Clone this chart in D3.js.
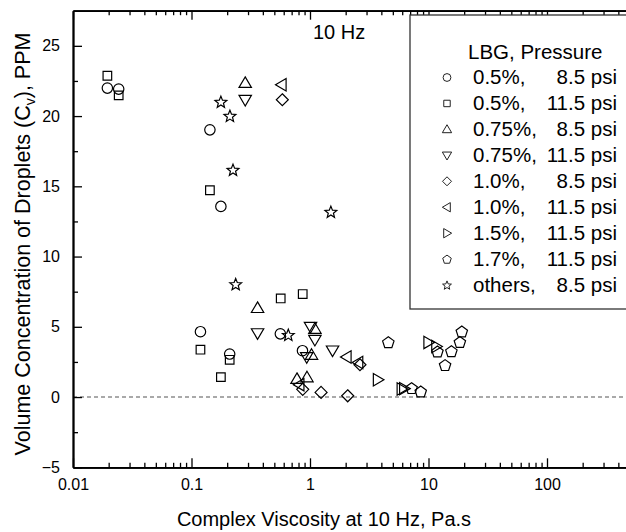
<!DOCTYPE html>
<html><head><meta charset="utf-8">
<script src="https://cdn.jsdelivr.net/npm/d3@7"></script>
<style>body{margin:0;background:#fff}svg{display:block;font-family:"Liberation Sans",Arial,sans-serif}</style>
</head><body><svg id="c" width="626" height="532"></svg>
<script>
// ---- data (viscosity Pa.s, concentration PPM) ----
const circX = [0.0195, 0.0243, 0.143, 0.177, 0.119, 0.210, 0.562, 0.864];
const circY = [21.99, 21.92, 19.02, 13.57, 4.65, 3.06, 4.5, 3.3];
const sqX = [0.0195, 0.0243, 0.143, 0.119, 0.210, 0.177, 0.566, 0.868];
const sqY = [22.87, 21.47, 14.72, 3.37, 2.65, 1.42, 7.02, 7.33];
const triUpX = [0.284, 0.361, 1.10, 1.03, 0.777, 0.943];
const triUpY = [22.35, 6.33, 4.85, 3.0, 1.28, 1.4];
const triDnX = [0.284, 0.361, 1.01, 1.10, 0.938, 1.55];
const triDnY = [21.16, 4.55, 5.0, 4.08, 2.85, 3.32];
const diaX = [0.584, 2.64, 0.868, 1.24, 2.08];
const diaY = [21.16, 2.3, 0.55, 0.33, 0.09];
const triLX = [0.577, 2.04, 2.56, 0.816];
const triLY = [22.23, 2.85, 2.46, 0.88];
const triRX = [3.73, 9.96, 11.6, 5.92, 6.21];
const triRY = [1.23, 3.89, 3.6, 0.57, 0.6];
const pentX = [4.58, 11.9, 15.6, 19.1, 18.4, 13.8, 7.2, 8.6];
const pentY = [3.91, 3.25, 3.27, 4.67, 3.92, 2.28, 0.64, 0.4];
const starX = [0.177, 0.211, 0.224, 1.50, 0.236, 0.656];
const starY = [21.02, 20.02, 16.18, 13.19, 8.04, 4.43];

const seriesShapes = ["circle","square","triUp","triDown","diamond","triLeft","triRight","pentagon","star"];
const legendPct = ["0.5%,","0.5%,","0.75%,","0.75%,","1.0%,","1.0%,","1.5%,","1.7%,","others,"];
const legendPsi = ["8.5 psi","11.5 psi","8.5 psi","11.5 psi","8.5 psi","11.5 psi","11.5 psi","11.5 psi","8.5 psi"];
const xTickVals = [0.01, 0.1, 1, 10, 100];
const xTickLabels = ["0.01","0.1","1","10","100"];
const yTickVals = [-5, 0, 5, 10, 15, 20, 25];

const seriesX = [circX, sqX, triUpX, triDnX, diaX, triLX, triRX, pentX, starX];
const seriesY = [circY, sqY, triUpY, triDnY, diaY, triLY, triRY, pentY, starY];

// ---- layout ----
const svg = d3.select("#c");
const L = 73, T = 10.7, B = 467.3, R = 73 + 5 * 118.5;
const x = d3.scaleLog().domain([0.01, 1000]).range([L, R]);
const y = d3.scaleLinear().domain([-5, 27.5]).range([B, T]);

function shapePath(type, s) {
  const p = d3.path();
  const poly = (pts) => { pts.forEach((q,i)=> i? p.lineTo(q[0],q[1]) : p.moveTo(q[0],q[1])); p.closePath(); };
  const rot = (pts, a) => pts.map(([u,v]) => [u*Math.cos(a)-v*Math.sin(a), u*Math.sin(a)+v*Math.cos(a)]);
  const tri = [[0,-6.2*s],[6.2*s,4.4*s],[-6.2*s,4.4*s]];
  switch (type) {
    case "circle": p.arc(0,0,5.2*s,0,2*Math.PI); p.closePath(); break;
    case "square": poly([[-4.3*s,-4.3*s],[4.3*s,-4.3*s],[4.3*s,4.3*s],[-4.3*s,4.3*s]]); break;
    case "triUp": poly(tri); break;
    case "triDown": poly(rot(tri, Math.PI)); break;
    case "triLeft": poly(rot(tri, -Math.PI/2)); break;
    case "triRight": poly(rot(tri, Math.PI/2)); break;
    case "diamond": poly([[0,-6*s],[6*s,0],[0,6*s],[-6*s,0]]); break;
    case "pentagon": { const pts=[]; for(let i=0;i<5;i++){const a=-Math.PI/2+i*2*Math.PI/5; pts.push([6*s*Math.cos(a),6*s*Math.sin(a)+0.6*s]);} poly(pts); break; }
    case "star": { const pts=[]; for(let i=0;i<10;i++){const r=i%2?2.7*s:6.2*s; const a=-Math.PI/2+i*Math.PI/5; pts.push([r*Math.cos(a),r*Math.sin(a)+0.6*s]);} poly(pts); break; }
  }
  return p.toString();
}

svg.append("defs").append("clipPath").attr("id","pc").append("rect")
  .attr("x",L).attr("y",T).attr("width",R-L).attr("height",B-T);

// zero dashed line
svg.append("line").attr("x1",L).attr("x2",R).attr("y1",y(0)).attr("y2",y(0))
  .attr("stroke","#555").attr("stroke-width",1.1).attr("stroke-dasharray","4,3");

// axes
const minorX = [];
for (let e=-2; e<3; e++) for (let m=2; m<10; m++) minorX.push(m*Math.pow(10,e));
const gB = svg.append("g").attr("transform",`translate(0,${B})`)
  .call(d3.axisBottom(x).tickValues(xTickVals).tickFormat((d,i)=>xTickLabels[i]).tickSizeInner(-9).tickSizeOuter(0).tickPadding(11));
const gBm = svg.append("g").attr("transform",`translate(0,${B})`)
  .call(d3.axisBottom(x).tickValues(minorX).tickFormat("").tickSizeInner(-4.5).tickSizeOuter(0));
const gT = svg.append("g").attr("transform",`translate(0,${T})`)
  .call(d3.axisTop(x).tickValues(xTickVals).tickFormat("").tickSizeInner(-9).tickSizeOuter(0));
const gTm = svg.append("g").attr("transform",`translate(0,${T})`)
  .call(d3.axisTop(x).tickValues(minorX).tickFormat("").tickSizeInner(-4.5).tickSizeOuter(0));
const gL = svg.append("g").attr("transform",`translate(${L},0)`)
  .call(d3.axisLeft(y).tickValues(yTickVals).tickSizeInner(-9).tickSizeOuter(0));
const gLm = svg.append("g").attr("transform",`translate(${L},0)`)
  .call(d3.axisLeft(y).tickValues(d3.range(-2.5,27.5,5)).tickFormat("").tickSizeInner(-5).tickSizeOuter(0));
[gB,gBm,gT,gTm,gL,gLm].forEach(g=>{
  g.select(".domain").attr("stroke","#000").attr("stroke-width",1.8);
  g.selectAll(".tick line").attr("stroke","#000").attr("stroke-width",1.3);
  g.selectAll(".tick text").attr("font-size",16).attr("fill","#000").attr("font-family",'"Liberation Sans",Arial,sans-serif');
});
gL.selectAll(".tick text").attr("x",-13);

// points
const pg = svg.append("g").attr("clip-path","url(#pc)");
seriesShapes.forEach((sh, si) => {
  pg.selectAll(null).data(seriesX[si].map((v,i)=>[v, seriesY[si][i]])).join("path")
    .attr("d", shapePath(sh, 1))
    .attr("transform", d => `translate(${x(d[0])},${y(d[1])})`)
    .attr("fill","none").attr("stroke","#000").attr("stroke-width",1.2);
});

// 10 Hz label
svg.append("text").attr("x",313).attr("y",39).attr("font-size",20).text("10 Hz");

// legend
const lg = svg.append("g");
lg.append("rect").attr("x",410).attr("y",15).attr("width",260).attr("height",294)
  .attr("fill","#fff").attr("stroke","#333").attr("stroke-width",1.3);
lg.append("text").attr("x",468).attr("y",58.5).attr("font-size",20.5).text("LBG, Pressure");
seriesShapes.forEach((sh,i)=>{
  const by = 84 + 25.95*i;
  lg.append("path").attr("d", shapePath(sh, 0.75)).attr("transform",`translate(447,${by-6.5})`)
    .attr("fill","none").attr("stroke","#222").attr("stroke-width",1);
  lg.append("text").attr("x",473).attr("y",by).attr("font-size",20.5).text(legendPct[i]);
  lg.append("text").attr("x",617).attr("y",by).attr("font-size",20.5).attr("text-anchor","end").text(legendPsi[i]);
});

// axis titles
svg.append("text").attr("x",324).attr("y",526).attr("font-size",20).attr("text-anchor","middle")
  .text("Complex Viscosity at 10 Hz, Pa.s");
const yt = svg.append("text").attr("transform","translate(30,244) rotate(-90)").attr("font-size",21.5).attr("text-anchor","middle");
yt.append("tspan").text("Volume Concentration of Droplets (C");
yt.append("tspan").attr("font-size",14).attr("dy",5).text("v");
yt.append("tspan").attr("dy",-5).text("), PPM");
</script></body></html>
